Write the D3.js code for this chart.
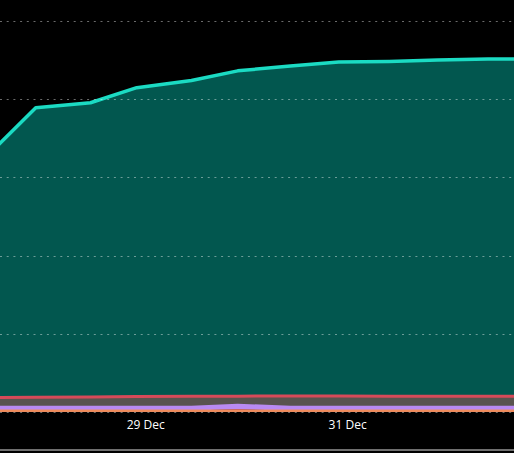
<!DOCTYPE html>
<html>
<head>
<meta charset="utf-8">
<script src="https://cdn.jsdelivr.net/npm/d3@7"></script>
<style>
  body { margin: 0; background: #000; }
  svg { display: block; }
</style>
</head>
<body>
<div id="chart"></div>
<script>
// visible time window and data timestamps
const viewWindow = ["2023-12-27T13:30", "2024-01-01T15:40"];
const times = ["2023-12-27T09:30", "2023-12-27T22:00", "2023-12-28T11:00", "2023-12-28T22:00",
               "2023-12-29T11:00", "2023-12-29T22:00", "2023-12-30T10:30", "2023-12-30T22:00",
               "2023-12-31T10:00", "2023-12-31T21:30", "2024-01-01T09:30", "2024-01-01T21:30"];
const tickDates = ["2023-12-29T00:00", "2023-12-31T00:00"];
const gridValues = [0, 20, 40, 60, 80, 100];

// series, bottom to top
const orangeSeries  = [0.4, 0.4, 0.4, 0.4, 0.4, 0.4, 0.4, 0.4, 0.4, 0.4, 0.4, 0.4];
const crimsonSeries = [0, 0, 0, 0, 0, 0.3, 0, 0, 0, 0, 0, 0];
const purpleSeries  = [0.9, 0.9, 0.9, 0.9, 0.9, 1.1, 0.9, 0.9, 0.9, 0.9, 0.9, 0.9];
const redSeries     = [2.4, 2.5, 2.55, 2.65, 2.7, 2.25, 2.8, 2.8, 2.75, 2.75, 2.75, 2.75];
const tealSeries    = [60.8, 74.0, 75.25, 79.0, 80.8, 83.2, 84.4, 85.4, 85.6, 86.0, 86.2, 86.3];

const keys = ["orange", "crimson", "purple", "red", "teal"];
const fills = { orange: "#ea8a5e", crimson: "#e0383e", purple: "#b98af2", red: "#59534f", teal: "#02574f" };
const strokes = { orange: "#ef8c5c", crimson: "#e0383e", purple: "#b98af2", red: "#d74a59", teal: "#1bdbc3" };
const widths = { orange: 2, crimson: 0, purple: 2.5, red: 3, teal: 3.5 };

const width = 514, height = 453;
const parse = d3.timeParse("%Y-%m-%dT%H:%M");

const data = times.map((t, i) => ({
  time: parse(t),
  orange: orangeSeries[i],
  crimson: crimsonSeries[i],
  purple: purpleSeries[i],
  red: redSeries[i],
  teal: tealSeries[i]
}));

const series = d3.stack().keys(keys)(data);

const x = d3.scaleTime()
  .domain(viewWindow.map(parse))
  .range([0, width]);

const y = d3.scaleLinear()
  .domain([0, 100])
  .range([412, 21]);

const svg = d3.select("#chart").append("svg")
  .attr("width", width)
  .attr("height", height)
  .style("background", "#000");

const area = d3.area()
  .x(d => x(d.data.time))
  .y0(d => y(d[0]))
  .y1(d => y(d[1]));

const line = d3.line()
  .x(d => x(d.data.time))
  .y(d => y(d[1]));

const plot = svg.append("g");

plot.selectAll("path.area")
  .data(series)
  .enter().append("path")
  .attr("class", "area")
  .attr("fill", d => fills[d.key])
  .attr("d", area);

// dotted grid
svg.append("g")
  .selectAll("line")
  .data(gridValues)
  .enter().append("line")
  .attr("x1", 0)
  .attr("x2", width)
  .attr("y1", d => Math.round(y(d)) + 0.5)
  .attr("y2", d => Math.round(y(d)) + 0.5)
  .attr("stroke", "rgba(255,255,255,0.42)")
  .attr("stroke-width", 1)
  .attr("stroke-dasharray", "2,4.7");

plot.selectAll("path.line")
  .data(series.filter(s => widths[s.key] > 0))
  .enter().append("path")
  .attr("class", "line")
  .attr("fill", "none")
  .attr("stroke", d => strokes[d.key])
  .attr("stroke-width", d => widths[d.key])
  .attr("stroke-linejoin", "round")
  .attr("d", line);

// x axis labels
const xAxis = d3.axisBottom(x)
  .tickValues(tickDates.map(parse))
  .tickFormat(d3.timeFormat("%-d %b"))
  .tickSize(0)
  .tickPadding(0);

svg.append("g")
  .attr("transform", "translate(0,420)")
  .call(xAxis)
  .call(g => g.select(".domain").remove())
  .call(g => g.selectAll("text")
    .attr("fill", "#fff")
    .attr("font-size", "12px")
    .attr("font-family", "'Open Sans', 'DejaVu Sans', sans-serif"));

// bottom border
svg.append("rect")
  .attr("x", 0)
  .attr("y", 449)
  .attr("width", width)
  .attr("height", 2)
  .attr("fill", "#6f6f6f");
</script>
</body>
</html>
